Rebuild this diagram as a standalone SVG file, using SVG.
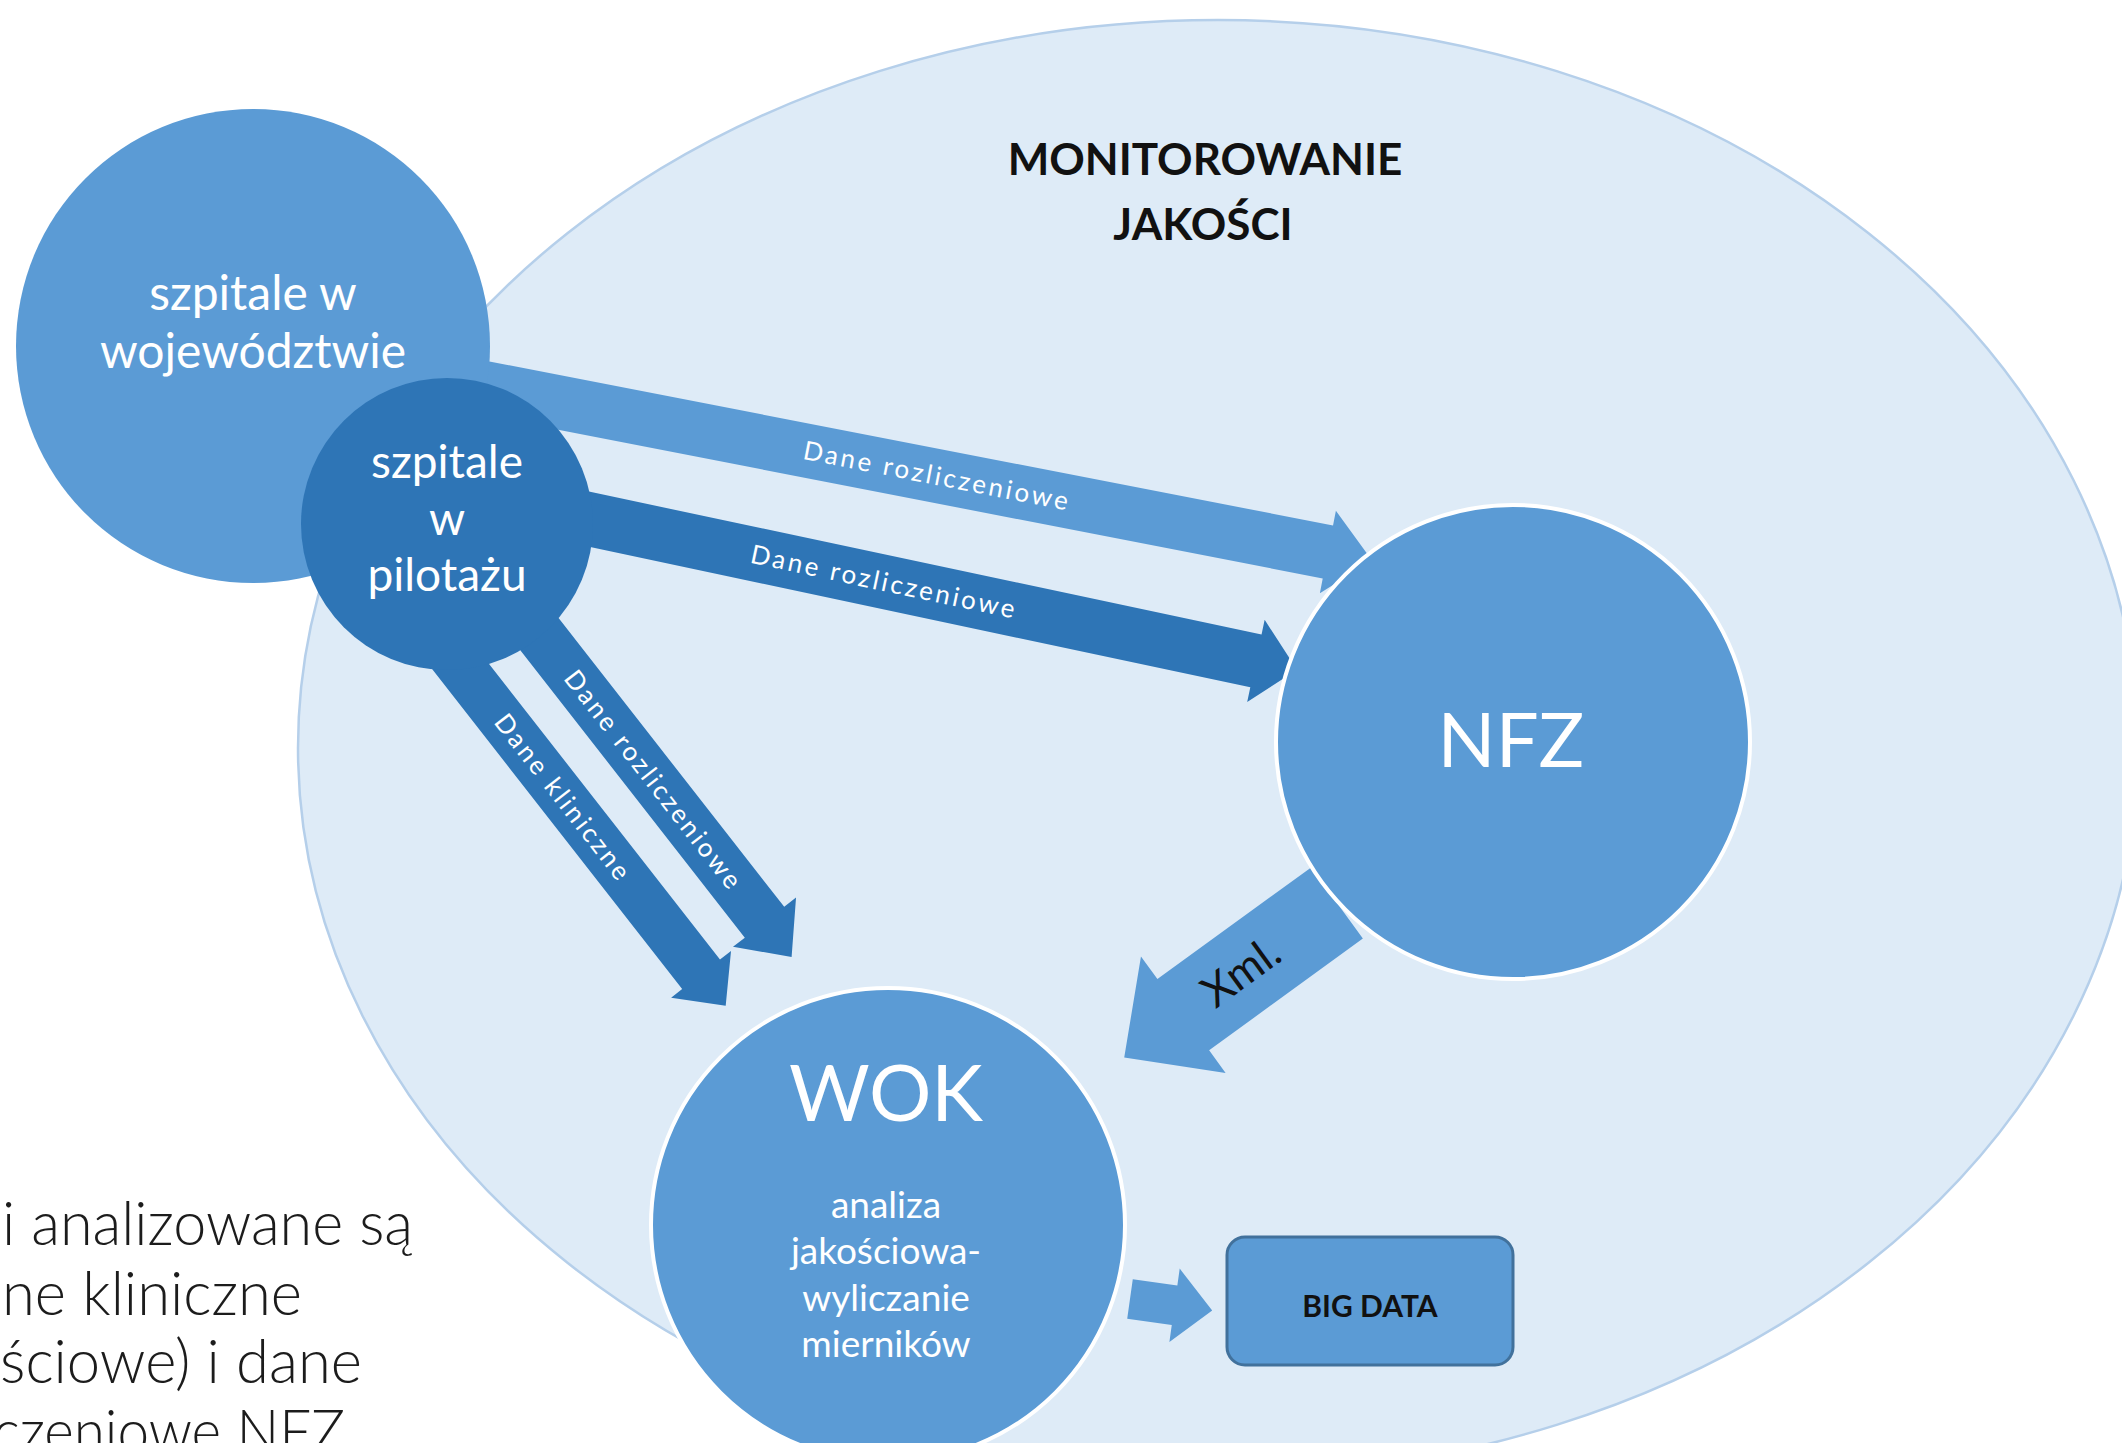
<svg xmlns="http://www.w3.org/2000/svg" width="2122" height="1443" viewBox="0 0 2122 1443">
<style>
.bg{fill:#ffffff}
.zone{fill:#DEEBF7;stroke:#B5CFEA;stroke-width:2.5}
.light{fill:#5B9BD5}
.dark{fill:#2E75B6}
.ring{stroke:#ffffff;stroke-width:4}
.box{fill:#5B9BD5;stroke:#41719C;stroke-width:3}
.wt{fill:#ffffff;font-family:Lato,"Open Sans","DejaVu Sans",sans-serif;text-anchor:middle}
.bt{fill:#111111;font-family:Lato,"Open Sans","DejaVu Sans",sans-serif;font-weight:bold;text-anchor:middle}
.lbl{fill:#ffffff;font-family:Lato,"Open Sans","DejaVu Sans",sans-serif;font-size:26px;letter-spacing:2.8px;text-anchor:middle}
.side{fill:#1c1c1c;font-family:Lato,"Open Sans","DejaVu Sans",sans-serif;font-weight:300;font-size:62px;text-anchor:end}
</style>
<rect class="bg" x="0" y="0" width="2122" height="1443"/>

<g id="side-text">
<text class="side" x="413" y="1245" textLength="411" lengthAdjust="spacingAndGlyphs">i analizowane są</text>
<text class="side" x="302" y="1315" textLength="300" lengthAdjust="spacingAndGlyphs">ne kliniczne</text>
<text class="side" x="362" y="1383" textLength="362" lengthAdjust="spacingAndGlyphs">ściowe) i dane</text>
<text class="side" x="345" y="1453" textLength="352" lengthAdjust="spacingAndGlyphs">czeniowe NFZ</text>
</g>

<g id="monitorowanie">
<ellipse class="zone" cx="1218" cy="748" rx="920" ry="728"/>
<text class="bt" x="1205" y="175" font-size="44">MONITOROWANIE</text>
<text class="bt" x="1203" y="240" font-size="44">JAKOŚCI</text>
</g>

<g id="connectors">
<g transform="translate(253,343) rotate(11)">
<polygon class="light" points="0,-27 1095,-27 1095,-42 1140,0 1095,42 1095,27 0,27"/>
<text class="lbl" x="697" y="9">Dane rozliczeniowe</text>
</g>
<g transform="translate(447,489) rotate(12)">
<polygon class="dark" points="0,-27 827,-27 827,-42 869,0 827,42 827,27 0,27"/>
<text class="lbl" x="447" y="9">Dane rozliczeniowe</text>
</g>
<g transform="translate(469,544) rotate(52)">
<polygon class="dark" points="0,-25 480,-25 480,-40 524,0 480,40 480,25 0,25"/>
<text class="lbl" x="300" y="9">Dane rozliczeniowe</text>
</g>
<g transform="translate(368,548) rotate(52)">
<polygon class="dark" points="0,-24 541,-24 541,-38 581,0 541,38 541,24 0,24"/>
<text class="lbl" x="317" y="9">Dane kliniczne</text>
</g>
<g transform="translate(1337,903) rotate(144)">
<polygon class="light" points="0,-44 190,-44 190,-72 263,0 190,72 190,44 0,44"/>
</g>
<text x="1241" y="972" transform="rotate(-36 1241 972)" font-family="Lato,'Open Sans','DejaVu Sans',sans-serif" font-size="44" fill="#111111" text-anchor="middle" dy="15">Xml.</text>
<g transform="translate(1130,1299) rotate(8)">
<polygon class="light" points="0,-20 45,-20 45,-37 83,0 45,37 45,20 0,20"/>
</g>
</g>

<g id="szpitale-wojewodztwo">
<circle class="light" cx="253" cy="346" r="237"/>
<text class="wt" x="253" y="310" font-size="48">szpitale w</text>
<text class="wt" x="253" y="368" font-size="48">województwie</text>
</g>

<g id="szpitale-pilotaz">
<circle class="dark" cx="447" cy="524" r="146"/>
<text class="wt" x="447" y="478" font-size="46">szpitale</text>
<text class="wt" x="447" y="535" font-size="46">w</text>
<text class="wt" x="447" y="591" font-size="46">pilotażu</text>
</g>

<g id="nfz">
<circle class="light ring" cx="1513" cy="742" r="237"/>
<text class="wt" x="1511" y="767" font-size="76">NFZ</text>
</g>

<g id="wok">
<circle class="light ring" cx="888" cy="1225" r="237"/>
<text class="wt" x="886" y="1121" font-size="78">WOK</text>
<text class="wt" x="886" y="1218" font-size="37">analiza</text>
<text class="wt" x="886" y="1264" font-size="37">jakościowa-</text>
<text class="wt" x="886" y="1311" font-size="37">wyliczanie</text>
<text class="wt" x="886" y="1357" font-size="37">mierników</text>
</g>

<g id="big-data">
<rect class="box" x="1227" y="1237" width="286" height="128" rx="18"/>
<text class="bt" x="1370" y="1317" font-size="30">BIG DATA</text>
</g>
</svg>
